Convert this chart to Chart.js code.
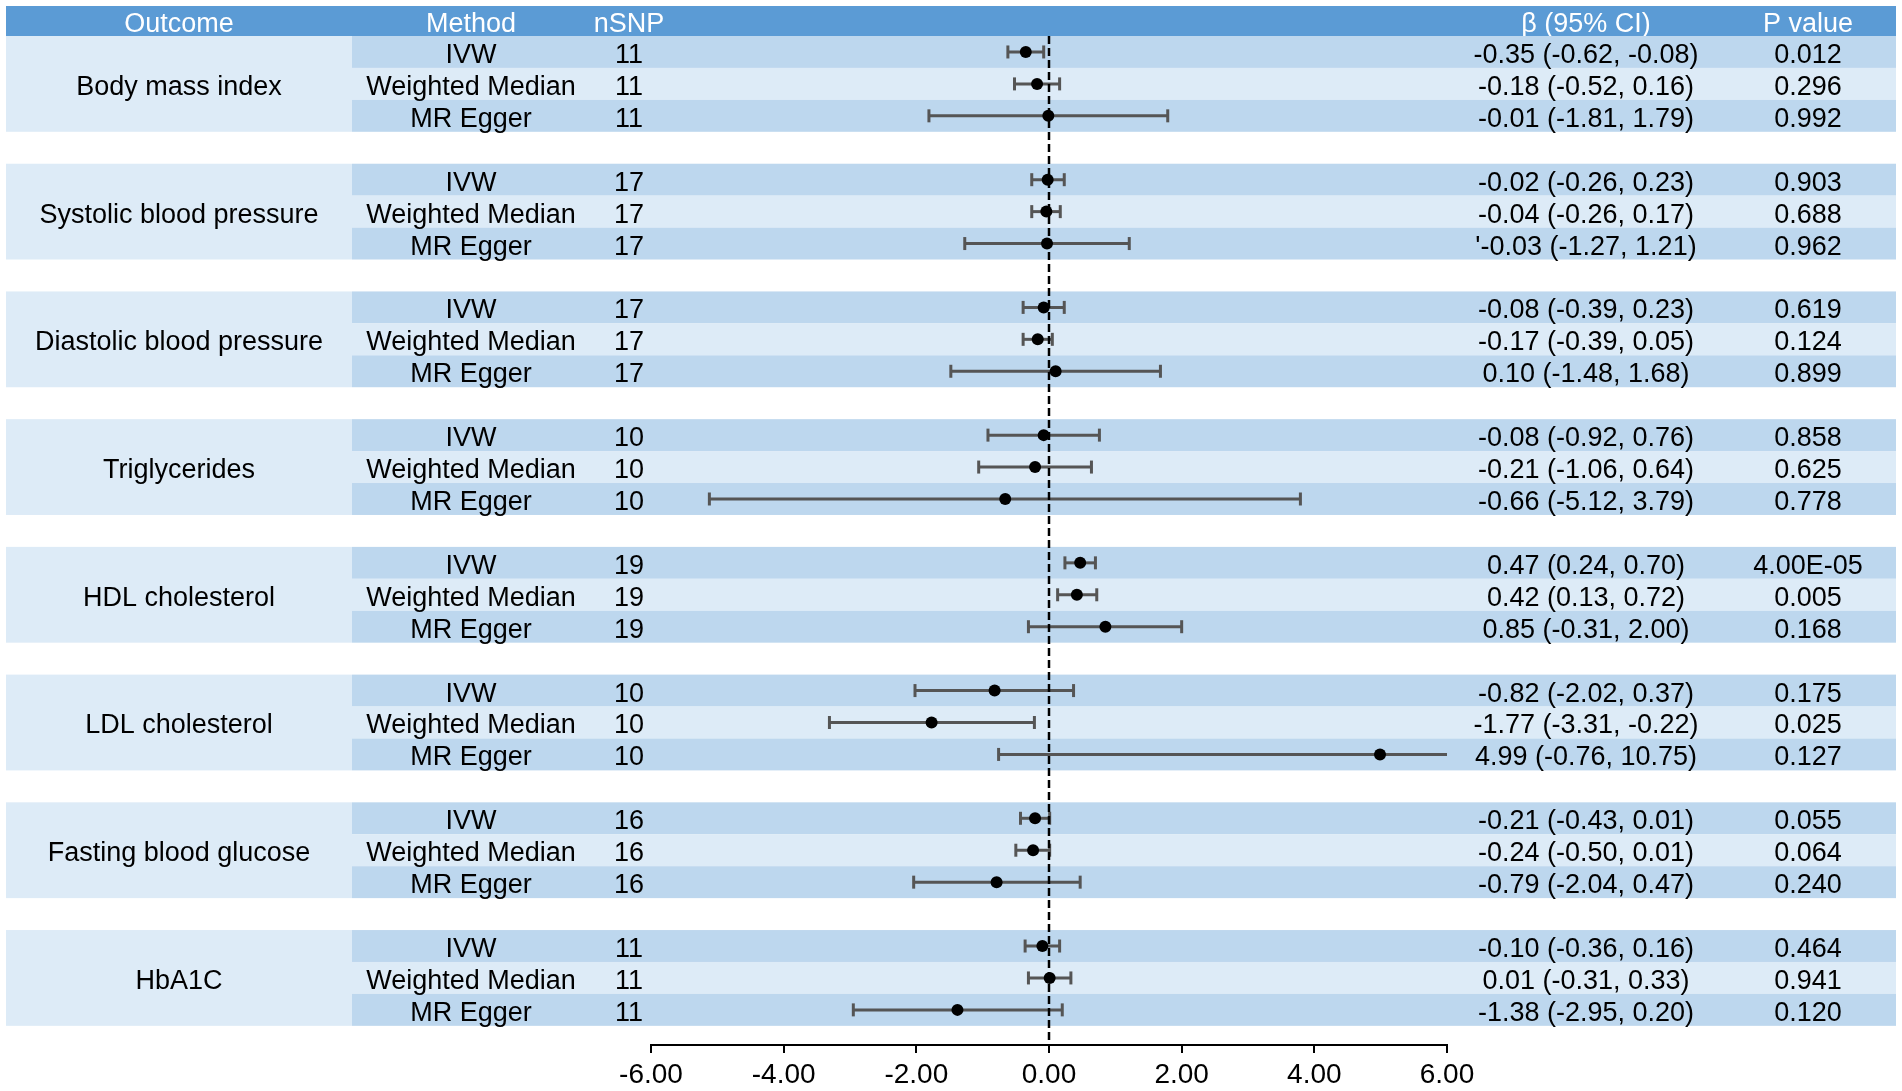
<!DOCTYPE html>
<html>
<head>
<meta charset="utf-8">
<script src="https://cdn.jsdelivr.net/npm/chart.js@4.4.1/dist/chart.umd.min.js"></script>
<style>
  html, body { margin: 0; padding: 0; background: #fff; overflow: hidden; }
  #wrap { width: 1902px; height: 1091px; position: relative; }
</style>
</head>
<body>
<div id="wrap"><canvas id="forest"></canvas></div>
<script>
'use strict';

// DATA
let outcomes = ['Body mass index', 'Systolic blood pressure', 'Diastolic blood pressure', 'Triglycerides',
  'HDL cholesterol', 'LDL cholesterol', 'Fasting blood glucose', 'HbA1C'];
let methods = ['IVW', 'Weighted Median', 'MR Egger'];
let nSnp = [11, 17, 17, 10, 19, 10, 16, 11];

let beta = [
  [-0.35, -0.18, -0.01], [-0.02, -0.04, -0.03], [-0.08, -0.17, 0.10], [-0.08, -0.21, -0.66],
  [0.47, 0.42, 0.85], [-0.82, -1.77, 4.99], [-0.21, -0.24, -0.79], [-0.10, 0.01, -1.38]
];
let lower = [
  [-0.62, -0.52, -1.81], [-0.26, -0.26, -1.27], [-0.39, -0.39, -1.48], [-0.92, -1.06, -5.12],
  [0.24, 0.13, -0.31], [-2.02, -3.31, -0.76], [-0.43, -0.50, -2.04], [-0.36, -0.31, -2.95]
];
let upper = [
  [-0.08, 0.16, 1.79], [0.23, 0.17, 1.21], [0.23, 0.05, 1.68], [0.76, 0.64, 3.79],
  [0.70, 0.72, 2.00], [0.37, -0.22, 10.75], [0.01, 0.01, 0.47], [0.16, 0.33, 0.20]
];
let ciText = [
  ['-0.35 (-0.62, -0.08)', '-0.18 (-0.52, 0.16)', '-0.01 (-1.81, 1.79)'],
  ['-0.02 (-0.26, 0.23)', '-0.04 (-0.26, 0.17)', "'-0.03 (-1.27, 1.21)"],
  ['-0.08 (-0.39, 0.23)', '-0.17 (-0.39, 0.05)', '0.10 (-1.48, 1.68)'],
  ['-0.08 (-0.92, 0.76)', '-0.21 (-1.06, 0.64)', '-0.66 (-5.12, 3.79)'],
  ['0.47 (0.24, 0.70)', '0.42 (0.13, 0.72)', '0.85 (-0.31, 2.00)'],
  ['-0.82 (-2.02, 0.37)', '-1.77 (-3.31, -0.22)', '4.99 (-0.76, 10.75)'],
  ['-0.21 (-0.43, 0.01)', '-0.24 (-0.50, 0.01)', '-0.79 (-2.04, 0.47)'],
  ['-0.10 (-0.36, 0.16)', '0.01 (-0.31, 0.33)', '-1.38 (-2.95, 0.20)']
];
let pValues = [
  ['0.012', '0.296', '0.992'], ['0.903', '0.688', '0.962'], ['0.619', '0.124', '0.899'],
  ['0.858', '0.625', '0.778'], ['4.00E-05', '0.005', '0.168'], ['0.175', '0.025', '0.127'],
  ['0.055', '0.064', '0.240'], ['0.464', '0.941', '0.120']
];
let headers = ['Outcome', 'Method', 'nSNP', 'β (95% CI)', 'P value'];
let xTicks = [-6, -4, -2, 0, 2, 4, 6];

// layout bits
let SLOTS = 4;          // 3 rows + 1 gap per outcome
let Y_MAX = 31.6;
let FONT = '27px "Liberation Sans", Arial, sans-serif';
let TEXT_DY = 3.5;
let colX = [179, 471, 629, 1586, 1808];
let DARK = '#bdd7ee';
let LIGHT = '#ddebf7';
let HEAD = '#5b9bd5';
let WHISKER = '#555555';

function rowY(g, r) {
  return g * SLOTS + r + 0.5;
}

// DATASETS
let points = [];
let caps = [];
let datasets = [];
for (let g = 0; g < outcomes.length; g++) {
  for (let r = 0; r < methods.length; r++) {
    let y = rowY(g, r);
    points.push({ x: beta[g][r], y: y });
    caps.push({ x: lower[g][r], y: y });
    caps.push({ x: upper[g][r], y: y });
    datasets.push({
      type: 'line',
      data: [{ x: lower[g][r], y: y }, { x: upper[g][r], y: y }],
      borderColor: WHISKER,
      borderWidth: 3,
      pointRadius: 0,
      order: 4
    });
  }
}

datasets.push({
  type: 'scatter',
  data: caps,
  pointStyle: 'line',
  rotation: 90,
  pointRadius: 6.5,
  borderColor: WHISKER,
  borderWidth: 3,
  order: 3
});
datasets.push({
  type: 'line',
  data: [{ x: 0, y: 0 }, { x: 0, y: Y_MAX }],
  borderColor: '#000',
  borderWidth: 2.5,
  borderDash: [8, 4],
  pointRadius: 0,
  order: 2
});
datasets.push({
  type: 'scatter',
  data: points,
  pointStyle: 'circle',
  pointRadius: 6,
  backgroundColor: '#000',
  borderColor: '#000',
  borderWidth: 0,
  order: 1
});

// table behind the plot
let tablePlugin = {
  id: 'table',
  beforeDatasetsDraw(chart) {
    let ctx = chart.ctx;
    let yS = chart.scales.y;
    let left = 6, right = 1896, split = 352;
    let top = chart.chartArea.top;
    ctx.save();
    ctx.fillStyle = HEAD;
    ctx.fillRect(left, 6, right - left, top - 6);
    ctx.font = FONT;
    ctx.textAlign = 'center';
    ctx.textBaseline = 'middle';
    ctx.fillStyle = '#fff';
    for (let i = 0; i < headers.length; i++) {
      ctx.fillText(headers[i], colX[i], (6 + top) / 2 + TEXT_DY);
    }
    for (let g = 0; g < outcomes.length; g++) {
      let gTop = yS.getPixelForValue(g * SLOTS);
      let gBot = yS.getPixelForValue(g * SLOTS + 3);
      ctx.fillStyle = LIGHT;
      ctx.fillRect(left, gTop, split - left, gBot - gTop);
      for (let r = 0; r < methods.length; r++) {
        let t = yS.getPixelForValue(g * SLOTS + r);
        let b = yS.getPixelForValue(g * SLOTS + r + 1);
        ctx.fillStyle = r === 1 ? LIGHT : DARK;
        ctx.fillRect(split, t, right - split, b - t);
      }
      ctx.fillStyle = '#000';
      ctx.fillText(outcomes[g], colX[0], yS.getPixelForValue(g * SLOTS + 1.5) + TEXT_DY);
      for (let r = 0; r < methods.length; r++) {
        let yc = yS.getPixelForValue(rowY(g, r)) + TEXT_DY;
        ctx.fillText(methods[r], colX[1], yc);
        ctx.fillText(String(nSnp[g]), colX[2], yc);
        ctx.fillText(ciText[g][r], colX[3], yc);
        ctx.fillText(pValues[g][r], colX[4], yc);
      }
    }
    ctx.restore();
  }
};

let canvasElem = document.getElementById('forest').getContext('2d');

new Chart(canvasElem, {
  type: 'scatter',
  data: { datasets: datasets },
  plugins: [tablePlugin],
  options: {
    responsive: true,
    maintainAspectRatio: false,
    animation: false,
    layout: { padding: { left: 651, right: 455, top: 36, bottom: 0 } },
    plugins: { legend: { display: false }, tooltip: { enabled: false } },
    scales: {
      x: {
        type: 'linear',
        min: -6,
        max: 6,
        afterBuildTicks: (scale) => {
          scale.ticks = xTicks.map((v) => ({ value: v }));
        },
        afterFit: (scale) => {
          scale.height = 46;
        },
        ticks: {
          autoSkip: false,
          maxRotation: 0,
          padding: 5,
          color: '#000',
          font: { family: '"Liberation Sans", Arial, sans-serif', size: 28 },
          callback: (v) => Number(v).toFixed(2)
        },
        grid: { drawOnChartArea: false, drawTicks: true, tickLength: 8, color: '#000', lineWidth: 2 },
        border: { display: true, color: '#000', width: 2 }
      },
      y: {
        type: 'linear',
        display: false,
        reverse: true,
        min: 0,
        max: Y_MAX
      }
    }
  }
});
</script>
</body>
</html>
